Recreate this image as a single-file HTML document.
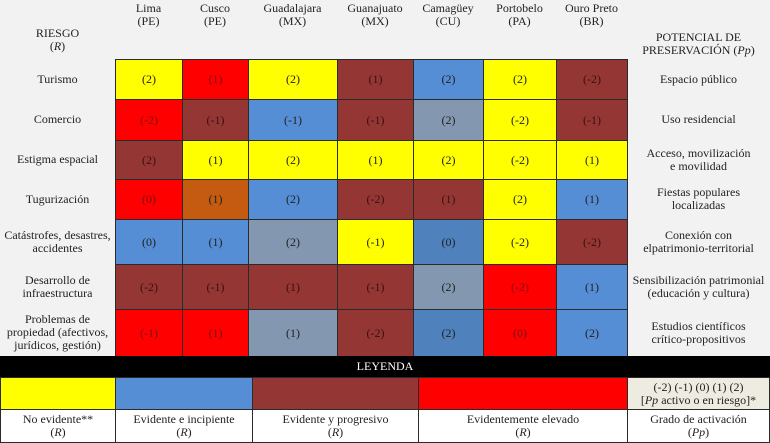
<!DOCTYPE html>
<html><head><meta charset="utf-8"><style>
body{margin:0;width:770px;height:443px;background:#f2f2f2;font-family:"Liberation Serif",serif;color:#222;position:relative;overflow:hidden}
.a{position:absolute;box-sizing:border-box;display:flex;align-items:center;justify-content:center;text-align:center;font-size:12px;line-height:13px}
.c{border:1px solid #2a2a2a}
</style></head><body>
<div id="root"></div>
<script>
const cities=["Lima\n(PE)","Cusco\n(PE)","Guadalajara\n(MX)","Guanajuato\n(MX)","Camagüey\n(CU)","Portobelo\n(PA)","Ouro Preto\n(BR)"];
const risks=["Turismo","Comercio","Estigma espacial","Tugurización","Catástrofes, desastres,\naccidentes","Desarrollo de\ninfraestructura","Problemas de\npropiedad (afectivos,\njurídicos, gestión)"];
const potentials=["Espacio público","Uso residencial","Acceso, movilización\ne movilidad","Fiestas populares\nlocalizadas","Conexión con\nelpatrimonio-territorial","Sensibilización patrimonial\n(educación y cultura)","Estudios científicos\ncrítico-propositivos"];
const riskLevels=[
["Y","R","Y","Br","B","Y","Br"],
["R","Br","B","Br","G","Y","Br"],
["Br","Y","Y","Y","Y","Y","Y"],
["R","O","B","Br","Br","Y","B"],
["B","B","G","Y","D","Y","Br"],
["Br","Br","Br","Br","G","R","B"],
["R","R","G","Br","D","R","B"]];
const activation=[
[2,1,2,1,2,2,-2],
[-2,-1,-1,-1,2,-2,-1],
[2,1,2,1,2,-2,1],
[0,1,2,-2,1,2,1],
[0,1,2,-1,0,-2,-2],
[-2,-1,1,-1,2,-2,1],
[-1,1,1,-2,2,0,2]];
const colors={Y:"#ffff00",R:"#ff0000",Br:"#943634",B:"#558ed5",G:"#8497b0",O:"#c55a11",D:"#4f81bd"};
const txt={Y:"#222",R:"#7a1010",Br:"#3a1010",B:"#222",G:"#222",O:"#222",D:"#222"};
const colX=[115,182,248,337,413,483,556,627];
const rowY=[59,99,140,179,219,264,309,356];
const root=document.getElementById('root');
function mk(x,y,w,h,html,cls,name,style){const d=document.createElement('div');d.className='a '+(cls||'');
d.style.cssText=`left:${x}px;top:${y}px;width:${w}px;height:${h}px;`+(style||'');d.innerHTML='<span>'+html+'</span>';


root.appendChild(d);return d;}
const br=s=>s.replace(/\n/g,'<br>');
mk(0,20,115,40,'RIESGO<br>(<i>R</i>)','','risk-header');
mk(627,28,143,32,'POTENCIAL DE<br>PRESERVACIÓN (<i>Pp</i>)','','potential-header');
cities.forEach((c,i)=>{mk(colX[i],2,colX[i+1]-colX[i],30,br(c),'','city-header','align-items:flex-start')});
risks.forEach((r,j)=>{
 const y=rowY[j],h=rowY[j+1]-y;
 mk(0,y,115,h,br(r),'','risk-label');
 mk(627,y,143,h,br(potentials[j]),'','potential-label');
 riskLevels[j].forEach((k,i)=>{
  mk(colX[i],y,colX[i+1]-colX[i]+1,h+1,'('+activation[j][i]+')','c','heatmap-cell',`background:${colors[k]};color:${txt[k]}`);
 });
});
mk(0,356,770,21,'LEYENDA','','legend-title','background:#000;color:#fff;');
const lx=[0,115,252,418,627,770];const lk=["Y","B","Br","R"];
const ll=["No evidente**<br>(<i>R</i>)","Evidente e incipiente<br>(<i>R</i>)","Evidente y progresivo<br>(<i>R</i>)","Evidentemente elevado<br>(<i>R</i>)","Grado de activación<br>(<i>Pp</i>)"];
for(let i=0;i<5;i++){
 const w=lx[i+1]-lx[i]+(i<4?1:0);
 mk(lx[i],377,w,33,i<4?'':'(-2) (-1) (0) (1) (2)<br>[<i>Pp</i> activo o en riesgo]*','c','legend-swatch','background:'+(i<4?colors[lk[i]]:'#eeece1'));
 mk(lx[i],409,w,34,ll[i],'c','legend-label','background:#fff');
}
</script>
</body></html>
